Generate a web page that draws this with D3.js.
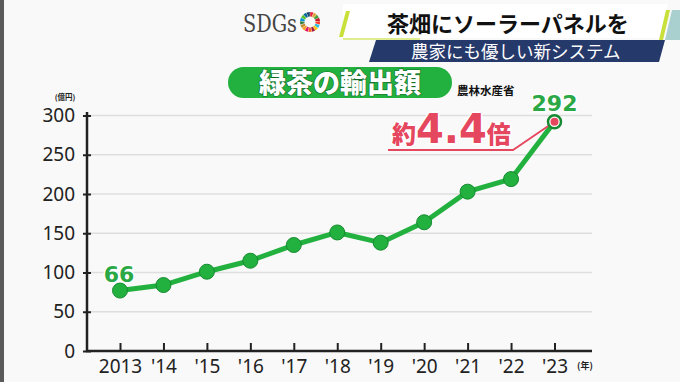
<!DOCTYPE html>
<html>
<head>
<meta charset="utf-8">
<script src="https://cdn.jsdelivr.net/npm/d3@7"></script>
<style>
  body { margin: 0; background: #f9f9f9; }
  svg { display: block; font-family: "Noto Sans CJK JP", "Noto Sans", sans-serif; }
</style>
</head>
<body>
<div id="chart"></div>
<script>
var width = 680,
  height = 382;

// Data
var years = [2013, 2014, 2015, 2016, 2017, 2018, 2019, 2020, 2021, 2022, 2023];
var yearLabels = ["2013", "'14", "'15", "'16", "'17", "'18", "'19", "'20", "'21", "'22", "'23"];
var exportValues = [77, 84, 101, 115, 135, 151, 138, 164, 203, 219, 292];
var yTicks = [0, 50, 100, 150, 200, 250, 300];
var labelIndex = [0, 10];
var labelText = ["66", "292"];

var sdgColors = ["#E5243B", "#DDA63A", "#4C9F38", "#C5192D", "#FF3A21", "#26BDE2", "#FCC30B", "#A21942",
  "#FD6925", "#DD1367", "#FD9D24", "#BF8B2E", "#3F7E44", "#0A97D9", "#56C02B", "#00689D", "#19486A"];

var green = "#22b13f",
  pink = "#e5475e",
  ink = "#222";

var svg = d3.select("#chart")
  .append("svg")
  .attr("width", width)
  .attr("height", height);

svg.append("rect")
  .attr("width", width)
  .attr("height", height)
  .attr("fill", "#f9f9f9");

// left frame edge
svg.append("rect")
  .attr("x", 0).attr("y", 0)
  .attr("width", 4).attr("height", height)
  .attr("fill", "#5a5a5a");

// ---- header ----
var head = svg.append("g");

head.append("polygon")
  .attr("points", "343,4 668,4 660,38 343,38")
  .attr("fill", "#ffffff");

head.append("text")
  .attr("x", 243).attr("y", 32)
  .attr("font-family", "'DejaVu Serif', serif")
  .attr("font-size", 25)
  .attr("textLength", 54)
  .attr("lengthAdjust", "spacingAndGlyphs")
  .attr("fill", "#444")
  .text("SDGs");

var wheel = head.append("g").attr("transform", "translate(310,22)");
var pie = d3.pie().value(1).sort(null);
var arc = d3.arc().innerRadius(5.5).outerRadius(10).padAngle(0.03);
wheel.selectAll("path")
  .data(pie(sdgColors))
  .enter()
  .append("path")
  .attr("d", arc)
  .attr("fill", function (d) { return d.data; });

head.append("polygon")
  .attr("points", "346,11 350,11 343,37 339,37")
  .attr("fill", "#c9df3a");
head.append("line")
  .attr("x1", 343).attr("y1", 39).attr("x2", 420).attr("y2", 39)
  .attr("stroke", "#d6e86a").attr("stroke-width", 1.5);

head.append("text")
  .attr("x", 387).attr("y", 32)
  .attr("font-size", 22)
  .attr("font-weight", 700)
  .attr("fill", "#111")
  .text("茶畑にソーラーパネルを");

head.append("polygon")
  .attr("points", "376,40 665,40 659,62 369,62")
  .attr("fill", "#26396b");

head.append("text")
  .attr("x", 411).attr("y", 58)
  .attr("font-size", 17.5)
  .attr("fill", "#fff")
  .text("農家にも優しい新システム");

head.append("polygon")
  .attr("points", "666,10 670,10 663,40 659,40")
  .attr("fill", "#c9df3a");
head.append("polygon")
  .attr("points", "672,10 680,10 680,40 665,40")
  .attr("fill", "#a9cfcf");

// ---- chart title ----
svg.append("rect")
  .attr("x", 228).attr("y", 67)
  .attr("width", 224).attr("height", 31)
  .attr("rx", 15.5)
  .attr("fill", green);

svg.append("text")
  .attr("x", 340).attr("y", 92.5)
  .attr("text-anchor", "middle")
  .attr("font-size", 27)
  .attr("font-weight", 900)
  .attr("fill", "#fff")
  .attr("stroke", "#136a28")
  .attr("stroke-width", 1.2)
  .attr("paint-order", "stroke")
  .text("緑茶の輸出額");

svg.append("text")
  .attr("x", 457).attr("y", 95)
  .attr("font-size", 11.5)
  .attr("font-weight", 700)
  .attr("fill", "#111")
  .text("農林水産省");

// ---- scales ----
var x = d3.scaleLinear()
  .domain([2013, 2023])
  .range([120, 554.5]);

var y = d3.scaleLinear()
  .domain([0, 300])
  .range([351, 115.5]);

// grid
svg.append("g")
  .selectAll("line")
  .data(yTicks.filter(function (d) { return d > 0; }))
  .enter()
  .append("line")
  .attr("x1", 88).attr("x2", 592)
  .attr("y1", function (d) { return y(d); })
  .attr("y2", function (d) { return y(d); })
  .attr("stroke", "#dedede")
  .attr("stroke-width", 1.5);

// y axis
var yAxis = svg.append("g")
  .attr("transform", "translate(87,0)")
  .call(d3.axisLeft(y).tickValues(yTicks).tickSize(4).tickPadding(8).tickSizeOuter(0));
yAxis.select(".domain").remove();
yAxis.selectAll(".tick line")
  .attr("x1", -4).attr("x2", 4)
  .attr("stroke", ink).attr("stroke-width", 2);
yAxis.selectAll(".tick text")
  .attr("font-family", "'Noto Sans', sans-serif")
  .attr("font-size", 19)
  .attr("fill", ink);
yAxis.append("line")
  .attr("x1", 0).attr("x2", 0)
  .attr("y1", 112).attr("y2", 352)
  .attr("stroke", ink).attr("stroke-width", 2.5);

svg.append("text")
  .attr("x", 65).attr("y", 100)
  .attr("text-anchor", "middle")
  .attr("font-size", 7.5)
  .attr("font-weight", 700)
  .attr("fill", ink)
  .text("(億円)");

// x axis
var xAxis = svg.append("g")
  .attr("transform", "translate(0," + y(0) + ")")
  .call(d3.axisBottom(x).tickValues(years)
    .tickFormat(function (d, i) { return yearLabels[i]; })
    .tickSizeInner(-8).tickSizeOuter(0).tickPadding(8.5));
xAxis.select(".domain").remove();
xAxis.selectAll(".tick line")
  .attr("stroke", ink).attr("stroke-width", 2);
xAxis.selectAll(".tick text")
  .attr("font-family", "'Noto Sans', sans-serif")
  .attr("font-size", 19)
  .attr("fill", ink);
xAxis.append("line")
  .attr("x1", 86).attr("x2", 592)
  .attr("y1", 0).attr("y2", 0)
  .attr("stroke", ink).attr("stroke-width", 2.5);

svg.append("text")
  .attr("x", 585).attr("y", 369)
  .attr("text-anchor", "middle")
  .attr("font-size", 9)
  .attr("font-weight", 700)
  .attr("fill", ink)
  .text("(年)");

// ---- line & markers ----
var line = d3.line()
  .x(function (d, i) { return x(years[i]); })
  .y(function (d) { return y(d); });

svg.append("path")
  .datum(exportValues)
  .attr("d", line)
  .attr("fill", "none")
  .attr("stroke", green)
  .attr("stroke-width", 5)
  .attr("stroke-linejoin", "round");

// annotation leader line
var last = exportValues.length - 1;
svg.append("polyline")
  .attr("points", [[388, 150], [513, 150], [x(years[last]), y(exportValues[last])]].join(" "))
  .attr("fill", "none")
  .attr("stroke", pink)
  .attr("stroke-width", 1.8);

svg.append("g")
  .selectAll("circle")
  .data(exportValues)
  .enter()
  .append("circle")
  .attr("cx", function (d, i) { return x(years[i]); })
  .attr("cy", function (d) { return y(d); })
  .attr("r", function (d, i) { return i === last ? 6.5 : 7.5; })
  .attr("fill", function (d, i) { return i === last ? "#fff" : green; })
  .attr("stroke", "#168a30")
  .attr("stroke-width", function (d, i) { return i === last ? 2.5 : 1; });

svg.append("circle")
  .attr("cx", x(years[last]))
  .attr("cy", y(exportValues[last]))
  .attr("r", 4)
  .attr("fill", pink);

// point labels
svg.append("g")
  .selectAll("text")
  .data(labelIndex)
  .enter()
  .append("text")
  .attr("x", function (d) { return x(years[d]) + (d === 0 ? -1 : 0); })
  .attr("y", function (d) { return d === 0 ? 282 : y(exportValues[d]) - 11; })
  .attr("text-anchor", "middle")
  .attr("font-family", "'DejaVu Sans', sans-serif")
  .attr("font-size", 22)
  .attr("font-weight", 700)
  .attr("fill", "#2aa845")
  .attr("stroke", "#fff")
  .attr("stroke-width", 3)
  .attr("paint-order", "stroke")
  .text(function (d, i) { return labelText[i]; });

// 約4.4倍
var mult = svg.append("text")
  .attr("x", 392).attr("y", 143)
  .attr("font-weight", 900)
  .attr("fill", pink)
  .attr("stroke", "#fff")
  .attr("stroke-width", 3)
  .attr("paint-order", "stroke");
mult.append("tspan").attr("font-size", 24).text("約");
mult.append("tspan").attr("font-size", 40).attr("font-family", "'DejaVu Sans', sans-serif").text("4.4");
mult.append("tspan").attr("font-size", 24).text("倍");
</script>
</body>
</html>
